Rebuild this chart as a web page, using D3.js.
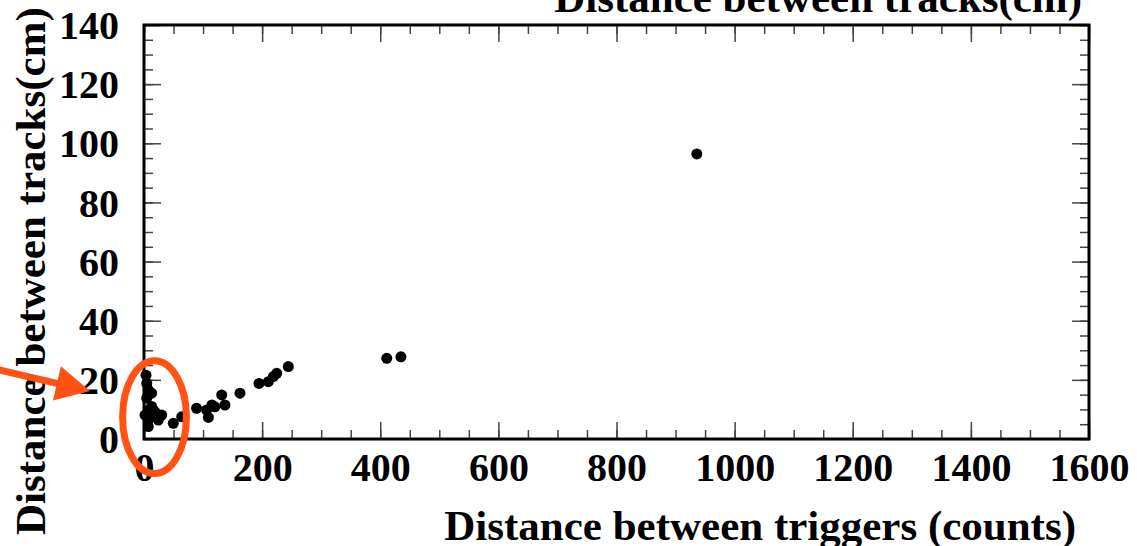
<!DOCTYPE html>
<html lang="en">
<head>
<meta charset="UTF-8" />
<title>Distance between tracks vs triggers</title>
<script src="https://cdn.jsdelivr.net/npm/d3@7"></script>
<style>
body{margin:0;background:#fff}
svg{display:block}
text{font-family:"Liberation Serif","Times New Roman",serif;font-weight:bold;fill:#000}
</style>
</head>
<body>
<svg id="chart" width="1137" height="546"></svg>
<script>
/* ===== data ===== */
const trigDist=[3.4,4.6,7.3,13,4.6,13,7.3,1.7,18.6,15.7,30,21.5,24.2,7.3,7.3,49.6,63.8,89,106,109,115,120,131.6,137,162.5,194.7,210.5,219,224.7,244.3,411,435,936];
const trackDist=[21.6,18.8,16.6,15.5,13.8,11.0,9.8,8.1,9.2,9.8,8.1,7.5,6.4,6.4,4.2,5.3,7.5,10.4,9.8,7.3,11.5,10.9,14.9,11.5,15.5,18.8,19.4,21.1,22.2,24.5,27.3,27.8,96.4];
const xTicks=[0,200,400,600,800,1000,1200,1400,1600];
const yTicks=[0,20,40,60,80,100,120,140];
const xMinor=d3.range(0,1601,50);
const yMinor=d3.range(0,141,5);
/* annotation, in data units */
const ring={cx:17.8,cy:7.4,rx:54,ry:19.1};
const arrowFrom=[-252,23.7],arrowTip=[-91.4,16.2];

const svg=d3.select('#chart'),M={l:144,r:48,t:25,b:107};
const W=+svg.attr('width'),H=+svg.attr('height'),w=W-M.l-M.r,h=H-M.t-M.b;
const x=d3.scaleLinear().domain([0,1600]).range([M.l,M.l+w]);
const y=d3.scaleLinear().domain([0,140]).range([M.t+h,M.t]);

function ax(gen,tr,vals,size,fmt,pad){
  const g=svg.append('g').attr('transform',tr)
    .call(gen.tickValues(vals).tickSize(size).tickPadding(pad||0).tickFormat(fmt||''));
  g.select('.domain').remove();
  g.selectAll('line').attr('stroke','#444').attr('stroke-width',1.5);
  g.attr('font-family',null).attr('font-size',null);
  g.selectAll('text').attr('font-size',40);
  return g;
}
/* minor + major ticks on all four sides, pointing inside */
ax(d3.axisBottom(x),`translate(0,${M.t+h})`,xMinor,-9);
ax(d3.axisTop(x),`translate(0,${M.t})`,xMinor,-9);
ax(d3.axisLeft(y),`translate(${M.l},0)`,yMinor,-9);
ax(d3.axisRight(y),`translate(${M.l+w},0)`,yMinor,-9);
ax(d3.axisBottom(x),`translate(0,${M.t+h})`,xTicks,-17,d3.format('d'),14);
ax(d3.axisTop(x),`translate(0,${M.t})`,xTicks,-17);
ax(d3.axisLeft(y),`translate(${M.l},0)`,yTicks,-17,d3.format('d'),25)
  .selectAll('text').attr('dy','0.34em');
ax(d3.axisRight(y),`translate(${M.l+w},0)`,yTicks,-17);

svg.append('rect').attr('x',M.l).attr('y',M.t).attr('width',w).attr('height',h)
  .attr('fill','none').attr('stroke','#000').attr('stroke-width',3);

/* points */
svg.append('g').selectAll('circle').data(d3.range(trigDist.length)).join('circle')
  .attr('cx',i=>x(trigDist[i])).attr('cy',i=>y(trackDist[i])).attr('r',5.5).attr('fill','#000');

/* titles */
svg.append('text').attr('x',1082).attr('y',12).attr('text-anchor','end').attr('font-size',43)
  .text('Distance between tracks(cm)');
svg.append('text').attr('x',1076).attr('y',540).attr('text-anchor','end').attr('font-size',43)
  .text('Distance between triggers (counts)');
svg.append('text').attr('transform','translate(45,535) rotate(-90)').attr('font-size',43)
  .text('Distance between tracks(cm)');

/* orange annotation */
const orange='#ff5214';
svg.append('ellipse').attr('cx',x(ring.cx)).attr('cy',y(ring.cy))
  .attr('rx',x(ring.rx)-x(0)).attr('ry',y(0)-y(ring.ry))
  .attr('fill','none').attr('stroke',orange).attr('stroke-width',7);
const p0=[x(arrowFrom[0]),y(arrowFrom[1])],p1=[x(arrowTip[0]),y(arrowTip[1])];
const dx=p1[0]-p0[0],dy=p1[1]-p0[1],len=Math.hypot(dx,dy),ux=dx/len,uy=dy/len;
const hl=34,hw=17.5,bx=p1[0]-ux*hl,by=p1[1]-uy*hl;
svg.append('line').attr('x1',p0[0]).attr('y1',p0[1]).attr('x2',bx+ux*2).attr('y2',by+uy*2)
  .attr('stroke',orange).attr('stroke-width',7);
svg.append('polygon').attr('fill',orange)
  .attr('points',[[p1[0],p1[1]],[bx-uy*hw,by+ux*hw],[bx+uy*hw,by-ux*hw]].map(p=>p.join(',')).join(' '));
</script>
</body>
</html>
